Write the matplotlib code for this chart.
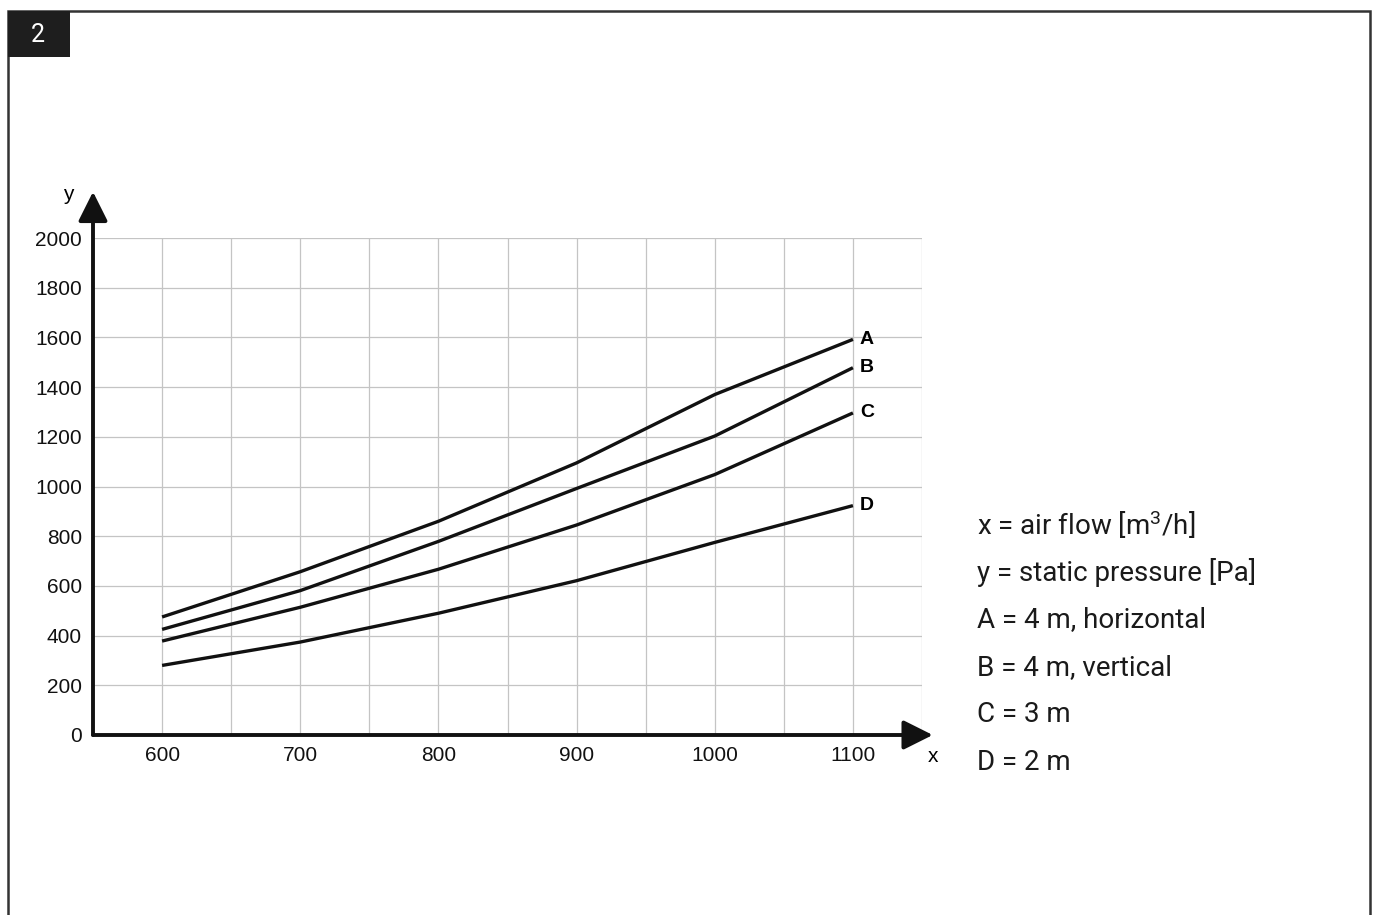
import matplotlib
matplotlib.use("Agg")
import matplotlib.pyplot as plt
from matplotlib.patches import Rectangle

plt.rcParams["mathtext.fontset"] = "custom"
plt.rcParams["mathtext.rm"] = "Roboto"
plt.rcParams["mathtext.it"] = "Roboto"

# air flow [m3/h]
air_flow = [600, 700, 800, 900, 1000, 1100]

# static pressure [Pa] per curve
curve_a = [475, 657, 860, 1095, 1370, 1592]
curve_b = [425, 581, 779, 992, 1203, 1478]
curve_c = [378, 514, 667, 845, 1048, 1296]
curve_d = [280, 374, 490, 621, 775, 923]
curve_names = ["A", "B", "C", "D"]

x_ticks = [600, 700, 800, 900, 1000, 1100]
y_ticks = [0, 200, 400, 600, 800, 1000, 1200, 1400, 1600, 1800, 2000]

legend_lines = [
    r"x = air flow [m$^{\mathregular{3}}$/h]",
    "y = static pressure [Pa]",
    "A = 4 m, horizontal",
    "B = 4 m, vertical",
    "C = 3 m",
    "D = 2 m",
]

W, H = 1375, 915
fig = plt.figure(figsize=(W / 100, H / 100), dpi=100)

# outer frame and the little number box
fig.patches.append(Rectangle((8 / W, -0.05), (1370 - 8) / W, (H - 11) / H + 0.05,
                             transform=fig.transFigure, fill=False,
                             edgecolor="#333333", lw=1.8))
fig.patches.append(Rectangle((8 / W, 1 - 57 / H), 62 / W, 46 / H,
                             transform=fig.transFigure, facecolor="#1e1e1e",
                             edgecolor="none"))
fig.text(38 / W, 1 - 35 / H, "2", color="white", fontsize=18,
         family="Roboto", ha="center", va="center")

ax = fig.add_axes([93 / W, (H - 735) / H, (922 - 93) / W, 497 / H])
ax.set_xlim(550, 1150)
ax.set_ylim(0, 2000)

for vals in [curve_a, curve_b, curve_c, curve_d]:
    ax.plot(air_flow, vals, color="#111111", lw=2.4, solid_capstyle="butt")

for name, vals in zip(curve_names, [curve_a, curve_b, curve_c, curve_d]):
    ax.text(air_flow[-1] + 5, vals[-1], name, fontsize=14, fontweight="bold",
            family="Liberation Sans", va="center", ha="left")

ax.set_xticks(x_ticks)
ax.set_xticks([550 + 50 * i for i in range(13) if (550 + 50 * i) not in x_ticks], minor=True)
ax.set_yticks(y_ticks)
ax.grid(True, which="both", color="#c4c4c4", lw=0.9)
ax.tick_params(which="both", length=0, colors="#111111")
ax.tick_params(axis="x", pad=8)
ax.tick_params(axis="y", pad=8)
for lab in ax.get_xticklabels() + ax.get_yticklabels():
    lab.set_fontfamily("Liberation Sans")
    lab.set_fontsize(15)
for s in ax.spines.values():
    s.set_visible(False)

# axis arrows
ax.annotate("", xy=(1.013, 0), xycoords="axes fraction", xytext=(0, 0),
            arrowprops=dict(arrowstyle="-|>", lw=2.8, color="#111111",
                            mutation_scale=45, shrinkA=0, shrinkB=0),
            annotation_clip=False)
ax.annotate("", xy=(0, 1.093), xycoords="axes fraction", xytext=(0, 0),
            arrowprops=dict(arrowstyle="-|>", lw=2.8, color="#111111",
                            mutation_scale=45, shrinkA=0, shrinkB=0),
            annotation_clip=False)
fig.text(68 / W, 1 - 195 / H, "y", fontsize=15, family="Liberation Sans",
         ha="center", va="center")
fig.text(933 / W, 1 - 757 / H, "x", fontsize=15, family="Liberation Sans",
         ha="center", va="center")

for i, line in enumerate(legend_lines):
    fig.text(977 / W, 1 - (525 + 47.5 * i) / H, line, fontsize=20,
             family="Roboto", color="#1a1a1a", ha="left", va="center")

fig.savefig("out.png", dpi=100)
